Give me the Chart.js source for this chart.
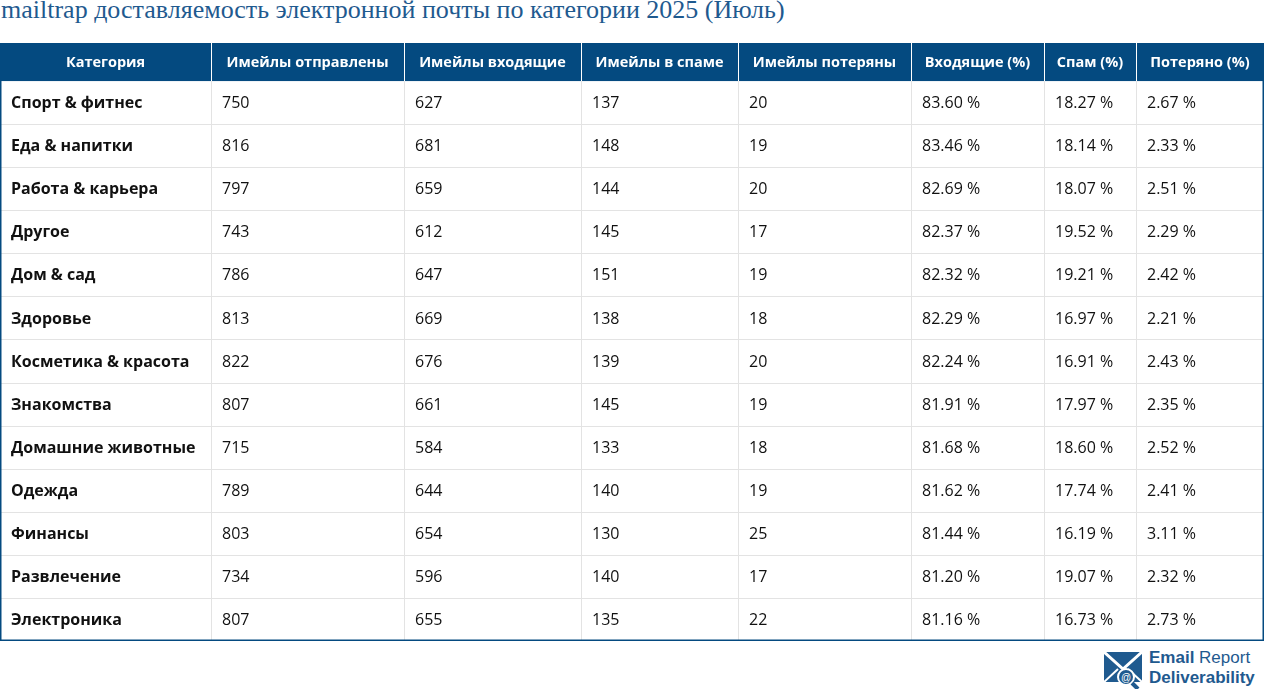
<!DOCTYPE html>
<html><head><meta charset="utf-8">
<script src="https://cdn.jsdelivr.net/npm/chart.js@4.4.0/dist/chart.umd.min.js"></script>
<style>
body{margin:0;background:#fff;width:1264px;height:689px;overflow:hidden;position:relative;font-family:"Open Sans",sans-serif}
#title{position:absolute;left:1px;top:-5px;font:26px "Liberation Serif",serif;color:#1f5a8f;white-space:nowrap}
#wrap{position:absolute;left:0;top:43px;width:1264px;height:598px}
#logo{position:absolute;left:1104px;top:651px;width:160px;height:38px}
#logo .t{position:absolute;left:45px;top:-3px;font:bold 17px "Liberation Sans",Arial,sans-serif;color:#1f5a8f;line-height:20px;white-space:nowrap}
</style></head><body>
<div id="title">mailtrap доставляемость электронной почты по категории 2025 (Июль)</div>
<div id="wrap"><canvas id="tbl"></canvas></div>
<div id="logo">
<svg width="40" height="38" viewBox="0 0 40 38"><rect x="0" y="1" width="38" height="30" fill="#1f5a8f"/><path d="M0 1 L19 18 L38 1" stroke="#fff" stroke-width="3" fill="none"/><path d="M0 31 L14 18 M38 31 L24 18" stroke="#fff" stroke-width="2"/><circle cx="22" cy="26" r="8" fill="#1f5a8f" stroke="#fff" stroke-width="2"/><text x="22" y="30" font-size="10" fill="#fff" text-anchor="middle" font-family="Arial">@</text><path d="M28 32 L34 38" stroke="#1f5a8f" stroke-width="4"/></svg>
<div class="t">Email <span style="font-weight:normal">Report</span><br>Deliverability</div>
</div>
<script>
const headers = ["Категория","Имейлы отправлены","Имейлы входящие","Имейлы в спаме","Имейлы потеряны","Входящие (%)","Спам (%)","Потеряно (%)"];
const categories = ["Спорт & фитнес","Еда & напитки","Работа & карьера","Другое","Дом & сад","Здоровье","Косметика & красота","Знакомства","Домашние животные","Одежда","Финансы","Развлечение","Электроника"];
const sent  = [750,816,797,743,786,813,822,807,715,789,803,734,807];
const inbox = [627,681,659,612,647,669,676,661,584,644,654,596,655];
const spam  = [137,148,144,145,151,138,139,145,133,140,130,140,135];
const lost  = [20,19,20,17,19,18,20,19,18,19,25,17,22];
const inboxPct = [83.60,83.46,82.69,82.37,82.32,82.29,82.24,81.91,81.68,81.62,81.44,81.20,81.16];
const spamPct  = [18.27,18.14,18.07,19.52,19.21,16.97,16.91,17.97,18.60,17.74,16.19,19.07,16.73];
const lostPct  = [2.67,2.33,2.51,2.29,2.42,2.21,2.43,2.35,2.52,2.41,3.11,2.32,2.73];

// layout
const colW = [211,193,177,157,173,133,92,128];
const headH = 38, rowH = 43;
const colEdges = colW.reduce((a,w)=>{a.push(a[a.length-1]+w);return a;},[0]);
const rowEdges = categories.reduce((a)=>{a.push(a[a.length-1]+rowH);return a;},[0,headH]);
const pct = v => v.toFixed(2) + " %";
const rows = categories.map((c,i)=>[c,sent[i],inbox[i],spam[i],lost[i],pct(inboxPct[i]),pct(spamPct[i]),pct(lostPct[i])]);

const tablePlugin = {
  id: "table",
  afterDraw(chart) {
    const ctx = chart.ctx, xs = chart.scales.x, ys = chart.scales.y;
    const X = v => xs.getPixelForValue(v), Y = v => ys.getPixelForValue(v);
    ctx.save();
    ctx.fillStyle = "#044a80";
    ctx.fillRect(X(0), Y(0), X(colEdges[8]) - X(0), Y(headH) - Y(0));
    ctx.textBaseline = "middle";
    ctx.font = "bold 14.5px 'Open Sans'";
    ctx.fillStyle = "#fff"; ctx.textAlign = "center";
    headers.forEach((h,j)=>ctx.fillText(h,(X(colEdges[j])+X(colEdges[j+1]))/2,(Y(0)+Y(headH))/2+1));
    ctx.strokeStyle = "#ffffff"; ctx.lineWidth = 1;
    for (let j=1;j<8;j++){ ctx.beginPath(); ctx.moveTo(Math.round(X(colEdges[j]))+0.5,Y(0)); ctx.lineTo(Math.round(X(colEdges[j]))+0.5,Y(headH)); ctx.stroke(); }
    ctx.strokeStyle = "#e3e3e3";
    for (let i=2;i<rowEdges.length-1;i++){ const y=Math.round(Y(rowEdges[i]))+0.5; ctx.beginPath(); ctx.moveTo(X(0),y); ctx.lineTo(X(colEdges[8]),y); ctx.stroke(); }
    for (let j=1;j<8;j++){ const x=Math.round(X(colEdges[j]))+0.5; ctx.beginPath(); ctx.moveTo(x,Y(headH)); ctx.lineTo(x,Y(rowEdges[rowEdges.length-1])); ctx.stroke(); }
    ctx.strokeStyle = "#044a80"; ctx.lineWidth = 1.5;
    const yb = Y(rowEdges[rowEdges.length-1]);
    ctx.beginPath(); ctx.moveTo(X(0)+0.75,Y(headH)); ctx.lineTo(X(0)+0.75,yb-0.75); ctx.lineTo(X(colEdges[8])-0.75,yb-0.75); ctx.lineTo(X(colEdges[8])-0.75,Y(headH)); ctx.stroke();
    ctx.textAlign = "left"; ctx.fillStyle = "#111";
    rows.forEach((r,i)=>{
      const yc = (Y(rowEdges[i+1])+Y(rowEdges[i+2]))/2 + 1;
      r.forEach((v,j)=>{
        ctx.font = (j===0?"bold ":"") + "16px 'Open Sans'";
        ctx.fillText(String(v), X(colEdges[j]) + 11, yc);
      });
    });
    ctx.restore();
  }
};

new Chart(document.getElementById("tbl"), {
  type: "scatter",
  data: { datasets: [{ data: [] }] },
  options: {
    responsive: true, maintainAspectRatio: false, animation: false,
    layout: { padding: 0 },
    plugins: { legend: { display: false }, tooltip: { enabled: false } },
    scales: {
      x: { type: "linear", min: 0, max: colEdges[8], display: false },
      y: { type: "linear", min: 0, max: rowEdges[rowEdges.length-1], reverse: true, display: false }
    }
  },
  plugins: [tablePlugin]
});
</script>
</body></html>
